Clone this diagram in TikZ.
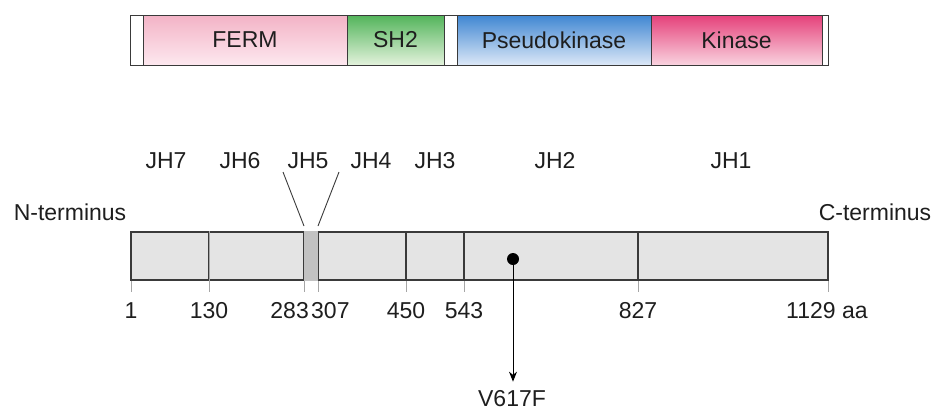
\documentclass[tikz,border=0pt]{standalone}
\usepackage{fontspec}
\setmainfont{Liberation Sans}
\usetikzlibrary{arrows.meta}
\definecolor{txt}{HTML}{1E1E1E}
\definecolor{edge}{HTML}{3A3A3A}
\definecolor{barfill}{HTML}{E4E4E4}
\definecolor{jhfive}{HTML}{C2C2C2}
\definecolor{fermtop}{HTML}{F3B3C6}
\definecolor{fermbot}{HTML}{FDE8EF}
\definecolor{shtop}{HTML}{52B45A}
\definecolor{shbot}{HTML}{E3F2DC}
\definecolor{pstop}{HTML}{3F86D2}
\definecolor{psbot}{HTML}{DCE8F7}
\definecolor{kitop}{HTML}{E5407A}
\definecolor{kibot}{HTML}{F9D3DF}
\begin{document}
\begin{tikzpicture}[x=1pt,y=-1pt,
  lbl/.style={font=\fontsize{23}{27}\selectfont, text=txt, inner sep=0pt},
  dom/.style={draw=edge, line width=1pt, minimum height=50pt, inner sep=0pt, anchor=center, font=\fontsize{23}{27}\selectfont, text=txt},
  seg/.style={draw=edge, line width=1.1pt, minimum height=48pt, inner sep=0pt, anchor=center, fill=barfill},
  tick/.style={draw=gray!70, line width=1pt},
  slant/.style={draw=edge, line width=0.9pt}]
\useasboundingbox (0,0) rectangle (935,410);
% top domain bar
\node[dom, fill=white, minimum width=13pt] (w1) at (136.5,40) {};
\node[dom, top color=fermtop, bottom color=fermbot, minimum width=204pt] (ferm) at (245,40) {FERM};
\node[dom, top color=shtop, bottom color=shbot, minimum width=97pt] (sh2) at (395.5,40) {SH2};
\node[dom, fill=white, minimum width=13pt] (w2) at (450.5,40) {};
\node[dom, top color=pstop, bottom color=psbot, minimum width=194pt] (pseudo) at (554,40) {Pseudokinase};
\node[dom, top color=kitop, bottom color=kibot, minimum width=171pt] (kinase) at (736.5,40) {Kinase};
\node[dom, fill=white, minimum width=6pt] (w3) at (825,40) {};
% bottom bar segments
\node[seg, minimum width=78pt] (s1) at (170,256) {};
\node[seg, minimum width=95pt] (s2) at (256.5,256) {};
\node[seg, fill=jhfive, minimum width=14pt] (s3) at (311,256) {};
\node[seg, minimum width=88pt] (s4) at (362,256) {};
\node[seg, minimum width=58pt] (s5) at (435,256) {};
\node[seg, minimum width=174pt] (s6) at (551,256) {};
\node[seg, minimum width=190pt] (s7) at (733,256) {};
% outer outline and light internal dividers
\draw[draw=edge, line width=1.1pt] (s1.north west) rectangle (s7.south east);
\draw[draw=gray!70, line width=1.1pt] (s1.north east) -- (s1.south east);
\fill[jhfive] ([xshift=0.6pt,yshift=0.6pt]s3.north west) rectangle ([xshift=-0.6pt,yshift=-0.6pt]s3.south east);
% ticks
\foreach \n/\x in {t1/131,t2/209,t3/304,t4/318,t5/406,t6/464,t7/638,t8/828}{
  \coordinate (\n a) at (\x,281);
  \coordinate (\n b) at (\x,292);
  \draw[tick] (\n a) -- (\n b);
}
% tick labels
\node[lbl] (n1) at (131,311) {1};
\node[lbl] (n130) at (209,311) {130};
\node[lbl, anchor=east] (n283) at (309,311) {283};
\node[lbl, anchor=west] (n307) at (311,311) {307};
\node[lbl] (n450) at (406,311) {450};
\node[lbl] (n543) at (464,311) {543};
\node[lbl] (n827) at (638,311) {827};
\node[lbl, anchor=west] (n1129) at (786,311) {1129 aa};
% region labels
\node[lbl] (jh7) at (166,161) {JH7};
\node[lbl] (jh6) at (240,161) {JH6};
\node[lbl] (jh5) at (308,161) {JH5};
\node[lbl] (jh4) at (371,161) {JH4};
\node[lbl] (jh3) at (435,161) {JH3};
\node[lbl] (jh2) at (555,161) {JH2};
\node[lbl] (jh1) at (731,161) {JH1};
\node[lbl] (nterm) at (70,212) {N-terminus};
\node[lbl] (cterm) at (875,212) {C-terminus};
% slanted lines to JH5
\coordinate (l1) at (283,172); \coordinate (l2) at (304,226);
\coordinate (r1) at (339,172); \coordinate (r2) at (318,226);
\draw[slant] (l1) -- (l2);
\draw[slant] (r1) -- (r2);
% mutation
\node[circle, fill=black, inner sep=0pt, minimum size=12pt] (dot) at (513,259) {};
\node[lbl] (mut) at (512,399) {V617F};
\draw[line width=1pt, -{Stealth[length=10pt,width=8pt]}] (dot.center) -- ([yshift=9pt]mut.north -| dot.center);
\end{tikzpicture}
\end{document}
